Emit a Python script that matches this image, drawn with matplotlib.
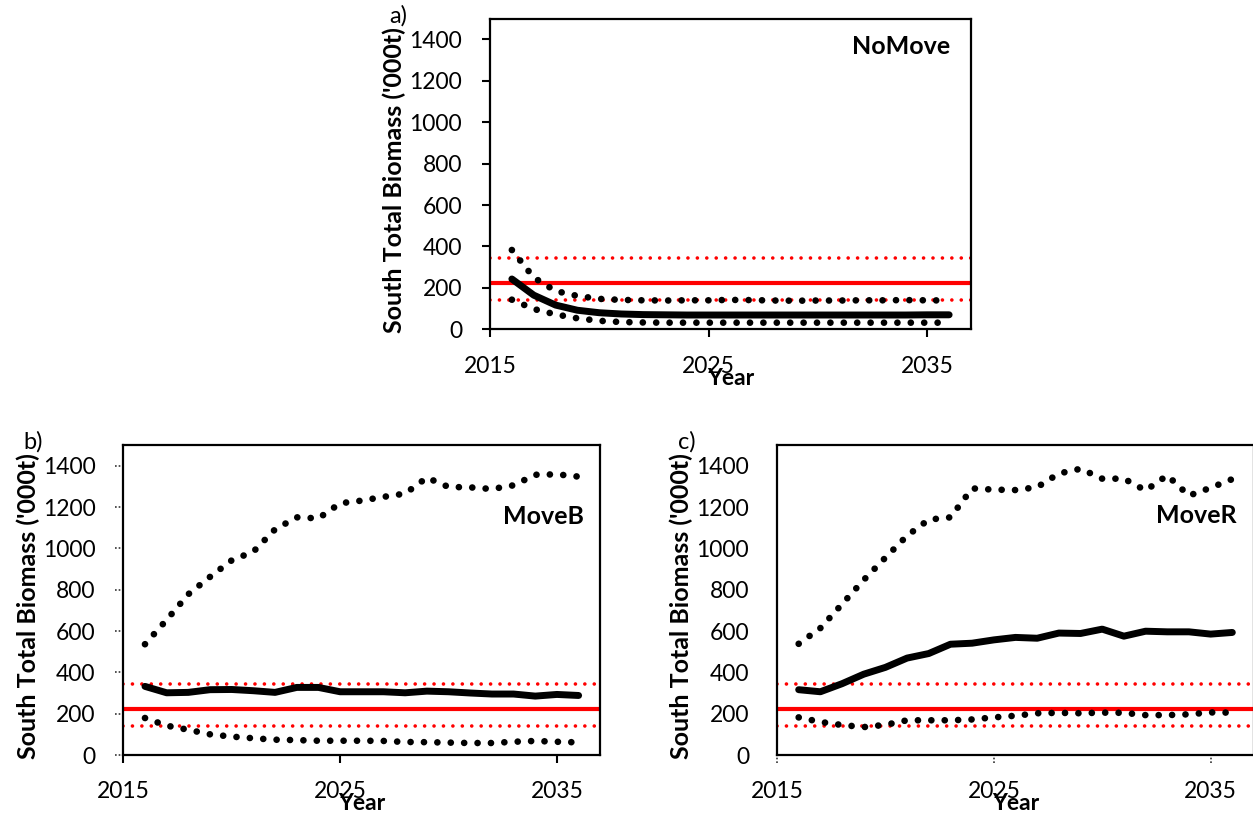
import matplotlib
matplotlib.use("Agg")
import matplotlib.pyplot as plt
import matplotlib.transforms as mtransforms

plt.rcParams['font.family'] = ['Lato', 'DejaVu Sans']

years = list(range(2016, 2037))

# Panel a) NoMove
a_median = [243, 165, 117, 92, 80, 74, 71, 70, 69, 69, 69, 69, 69, 69, 69, 69, 69, 69, 69, 70, 70]
a_upper = [383, 250, 185, 161, 147, 142, 140, 139, 140, 140, 142, 141, 139, 138, 139, 139, 140, 140, 141, 140, 139]
a_lower = [143, 98, 72, 53, 41, 35, 33, 32, 32, 32, 32, 32, 32, 32, 32, 32, 32, 32, 32, 32, 32]

# Panel b) MoveB
b_median = [332, 301, 303, 316, 317, 311, 303, 327, 327, 306, 306, 306, 301, 309, 306, 300, 295, 295, 285, 293, 288]
b_upper = [536, 654, 778, 862, 942, 984, 1092, 1150, 1145, 1218, 1231, 1249, 1265, 1342, 1297, 1295, 1287, 1305, 1356, 1358, 1347]
b_lower = [179, 142, 122, 100, 89, 81, 74, 72, 69, 69, 69, 68, 63, 62, 60, 58, 58, 64, 68, 64, 61]

# Panel c) MoveR
c_median = [316, 306, 345, 391, 424, 469, 491, 536, 541, 557, 569, 565, 590, 588, 609, 575, 599, 596, 596, 585, 593]
c_upper = [538, 614, 730, 847, 955, 1061, 1139, 1150, 1290, 1284, 1282, 1296, 1362, 1385, 1337, 1337, 1280, 1353, 1255, 1293, 1335]
c_lower = [182, 160, 145, 135, 146, 168, 168, 168, 172, 182, 190, 202, 204, 202, 205, 204, 193, 193, 197, 206, 205]

ref_solid = 222
ref_low = 140
ref_high = 343

yticks = [0, 200, 400, 600, 800, 1000, 1200, 1400]
xticks = [2015, 2025, 2035]
scenarios = ["NoMove", "MoveB", "MoveR"]
panel_labels = ["a)", "b)", "c)"]
ylabel = "South Total Biomass ('000t)"

W, H = 1253, 818
fig = plt.figure(figsize=(W / 100, H / 100), dpi=100)

def rect(left, right, top, bottom):
    return [left / W, (H - bottom) / H, (right - left) / W, (bottom - top) / H]

axes_rects = [rect(490, 971, 18.7, 329.3), rect(123.3, 600.3, 445, 755), rect(777, 1254, 445, 755)]
data = [(a_median, a_upper, a_lower), (b_median, b_upper, b_lower), (c_median, c_upper, c_lower)]
title_pos = [(0.956, 0.909), (0.966, 0.768), (0.9635, 0.774)]
dotted_yticks = [False, True, False]
dotted_xticks = [False, False, True]
hide_yticks = [False, False, True]

for i, (r, (med, up, lo)) in enumerate(zip(axes_rects, data)):
    ax = fig.add_axes(r)
    ax.axhline(ref_solid, color='#FF0000', lw=3.0, zorder=2)
    ax.axhline(ref_high, color='#FF0000', lw=2.6, linestyle=(0, (0.01, 2.6)),
               dash_capstyle='round', zorder=2)
    ax.axhline(ref_low, color='#FF0000', lw=2.6, linestyle=(0, (0.01, 2.6)),
               dash_capstyle='round', zorder=2)
    ax.plot(years, up, color='black', lw=4.8, linestyle=(0, (0.01, 2.0)),
            dash_capstyle='round', zorder=3)
    ax.plot(years, lo, color='black', lw=4.8, linestyle=(0, (0.01, 2.0)),
            dash_capstyle='round', zorder=3)
    ax.plot(years, med, color='black', lw=5.0, solid_capstyle='round',
            solid_joinstyle='round', zorder=4)

    ax.set_xlim(2015, 2037)
    ax.set_ylim(0, 1500)
    ax.set_xticks(xticks)
    ax.set_yticks(yticks)
    ax.set_xticklabels([str(t) for t in xticks])
    ax.set_yticklabels([str(t) for t in yticks])
    for s in ax.spines.values():
        s.set_linewidth(1.6)
        s.set_color('black')

    ylen = 0 if (dotted_yticks[i] or hide_yticks[i]) else 6
    xlen = 0 if dotted_xticks[i] else 6
    ax.tick_params(axis='y', direction='out', length=ylen, width=1.5,
                   pad=20 - ylen, labelsize=16.5)
    ax.tick_params(axis='x', direction='out', length=xlen, width=1.5,
                   pad=19 - xlen, labelsize=16.5)

    if dotted_yticks[i]:
        trans = mtransforms.blended_transform_factory(ax.transAxes, ax.transData)
        for yt in yticks:
            ax.plot([-0.018, -0.003], [yt, yt], transform=trans, color='#333333',
                    lw=1.2, linestyle=(0, (1, 1.2)), clip_on=False)
    if dotted_xticks[i]:
        trans = mtransforms.blended_transform_factory(ax.transData, ax.transAxes)
        for xt in xticks:
            ax.plot([xt, xt], [-0.026, -0.004], transform=trans, color='#333333',
                    lw=1.2, linestyle=(0, (1, 1.2)), clip_on=False)

    ax.set_ylabel(ylabel, fontsize=18, fontweight='bold')
    ax.yaxis.set_label_coords(-0.175, 0.48)
    ax.text(0.5, -0.157, "Year", transform=ax.transAxes, ha='center', va='center',
            fontsize=16.5, fontweight='bold')
    tx, ty = title_pos[i]
    ax.text(tx, ty, scenarios[i], transform=ax.transAxes, ha='right', va='center',
            fontsize=18, fontweight='bold')
    ax.text(-0.19, 1.01, panel_labels[i], transform=ax.transAxes, ha='center',
            va='center', fontsize=17)

fig.savefig("out.png", dpi=100)
